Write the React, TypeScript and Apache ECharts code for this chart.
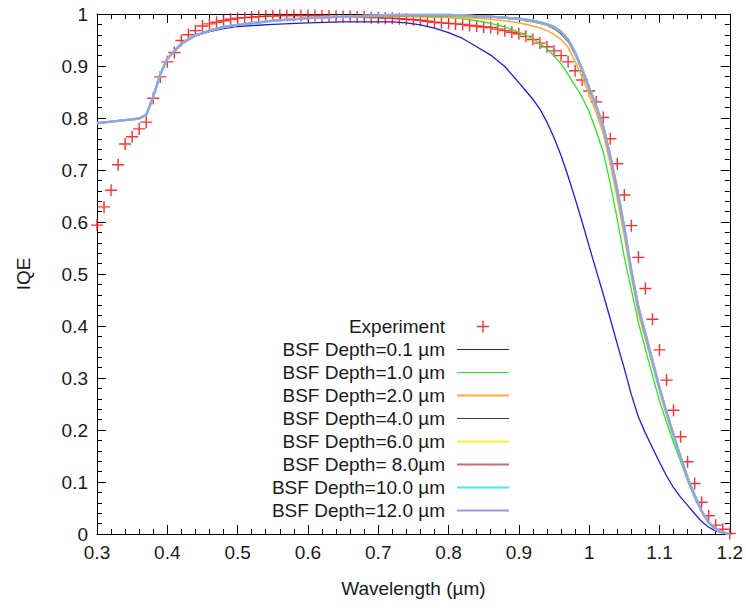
import React, { useEffect, useRef } from "react";
import * as echarts from "echarts";

// Experiment (red crosses)
const expWavelength = [
  0.30, 0.31, 0.32, 0.33, 0.34, 0.35, 0.36, 0.37, 0.38, 0.39,
  0.40, 0.41, 0.42, 0.43, 0.44, 0.45, 0.46, 0.47, 0.48, 0.49,
  0.50, 0.51, 0.52, 0.53, 0.54, 0.55, 0.56, 0.57, 0.58, 0.59,
  0.60, 0.61, 0.62, 0.63, 0.64, 0.65, 0.66, 0.67, 0.68, 0.69,
  0.70, 0.71, 0.72, 0.73, 0.74, 0.75, 0.76, 0.77, 0.78, 0.79,
  0.80, 0.81, 0.82, 0.83, 0.84, 0.85, 0.86, 0.87, 0.88, 0.89,
  0.90, 0.91, 0.92, 0.93, 0.94, 0.95, 0.96, 0.97, 0.98, 0.99,
  1.00, 1.01, 1.02, 1.03, 1.04, 1.05, 1.06, 1.07, 1.08, 1.09,
  1.10, 1.11, 1.12, 1.13, 1.14, 1.15, 1.16, 1.17, 1.18, 1.19,
  1.20,
];
const expIQE = [
  0.594, 0.629, 0.661, 0.710, 0.750, 0.764, 0.779, 0.792, 0.838, 0.879,
  0.908, 0.926, 0.949, 0.960, 0.968, 0.977, 0.981, 0.984, 0.987, 0.990,
  0.992, 0.993, 0.994, 0.995, 0.996, 0.996, 0.997, 0.997, 0.997, 0.997,
  0.997, 0.997, 0.996, 0.996, 0.995, 0.995, 0.995, 0.994, 0.994, 0.993,
  0.993, 0.992, 0.992, 0.991, 0.990, 0.989, 0.988, 0.986, 0.984, 0.983,
  0.982, 0.981, 0.980, 0.978, 0.977, 0.975, 0.974, 0.971, 0.968, 0.965,
  0.962, 0.957, 0.951, 0.944, 0.937, 0.929, 0.920, 0.908, 0.891, 0.873,
  0.852, 0.831, 0.801, 0.760, 0.712, 0.652, 0.593, 0.532, 0.472, 0.413,
  0.354, 0.296, 0.238, 0.187, 0.139, 0.097, 0.061, 0.035, 0.017, 0.009,
  0.001,
];

// Simulation wavelength grid
const simWavelength = [
  0.30, 0.32, 0.34, 0.36, 0.37, 0.38, 0.39, 0.40, 0.42, 0.44, 0.46, 0.48, 0.50,
  0.55, 0.60, 0.65, 0.70,
  0.72, 0.74, 0.76, 0.78, 0.80, 0.82, 0.84, 0.86, 0.88,
  0.90, 0.91, 0.92, 0.93, 0.94, 0.95, 0.96, 0.97, 0.98, 0.99,
  1.00, 1.01, 1.02, 1.03, 1.04, 1.05, 1.06, 1.07, 1.08, 1.09,
  1.10, 1.11, 1.12, 1.13, 1.14, 1.15, 1.16, 1.17, 1.18, 1.19,
  1.20,
];

const bsf01 = [
  0.790, 0.793, 0.796, 0.799, 0.806, 0.841, 0.884, 0.913, 0.942, 0.958, 0.966, 0.972, 0.976,
  0.980, 0.983, 0.985, 0.985,
  0.985, 0.983, 0.979, 0.973, 0.964, 0.953, 0.937, 0.921, 0.899,
  0.868, 0.852, 0.836, 0.817, 0.792, 0.762, 0.728, 0.688, 0.645, 0.600,
  0.553, 0.507, 0.461, 0.414, 0.365, 0.318, 0.268, 0.225, 0.194, 0.166,
  0.138, 0.112, 0.089, 0.071, 0.055, 0.039, 0.024, 0.013, 0.006, 0.002,
  0.000,
];
const bsf10 = [
  0.790, 0.793, 0.796, 0.799, 0.806, 0.841, 0.884, 0.914, 0.943, 0.959, 0.968, 0.975, 0.979,
  0.987, 0.992, 0.994, 0.995,
  0.995, 0.995, 0.995, 0.994, 0.993, 0.991, 0.987, 0.982, 0.975,
  0.965, 0.959, 0.952, 0.943, 0.933, 0.920, 0.904, 0.884, 0.862, 0.840,
  0.812, 0.775, 0.735, 0.674, 0.605, 0.532, 0.470, 0.407, 0.355, 0.305,
  0.256, 0.215, 0.176, 0.140, 0.102, 0.069, 0.044, 0.022, 0.008, 0.002,
  0.000,
];
const bsf20 = [
  0.790, 0.793, 0.796, 0.799, 0.806, 0.841, 0.884, 0.914, 0.943, 0.959, 0.968, 0.975, 0.979,
  0.987, 0.992, 0.995, 0.996,
  0.996, 0.996, 0.995, 0.995, 0.994, 0.993, 0.992, 0.990, 0.987,
  0.983, 0.980, 0.977, 0.973, 0.968, 0.961, 0.951, 0.936, 0.909, 0.879,
  0.845, 0.810, 0.770, 0.712, 0.645, 0.572, 0.495, 0.425, 0.375, 0.325,
  0.275, 0.228, 0.186, 0.145, 0.105, 0.071, 0.042, 0.021, 0.008, 0.002,
  0.000,
];
const bsf40 = [
  0.790, 0.793, 0.796, 0.799, 0.806, 0.841, 0.884, 0.914, 0.943, 0.959, 0.968, 0.975, 0.979,
  0.987, 0.992, 0.995, 0.997,
  0.997, 0.997, 0.997, 0.997, 0.996, 0.996, 0.995, 0.994, 0.992,
  0.989, 0.987, 0.985, 0.982, 0.978, 0.972, 0.962, 0.947, 0.922, 0.890,
  0.855, 0.820, 0.780, 0.722, 0.656, 0.583, 0.502, 0.432, 0.381, 0.330,
  0.279, 0.232, 0.189, 0.147, 0.107, 0.073, 0.043, 0.022, 0.009, 0.003,
  0.000,
];
const bsf60 = [
  0.790, 0.793, 0.796, 0.799, 0.806, 0.841, 0.884, 0.914, 0.943, 0.959, 0.968, 0.975, 0.979,
  0.987, 0.992, 0.995, 0.997,
  0.998, 0.998, 0.998, 0.998, 0.997, 0.997, 0.996, 0.995, 0.993,
  0.990, 0.988, 0.986, 0.983, 0.979, 0.974, 0.965, 0.950, 0.925, 0.893,
  0.857, 0.822, 0.783, 0.726, 0.660, 0.587, 0.505, 0.435, 0.384, 0.332,
  0.280, 0.233, 0.190, 0.148, 0.108, 0.074, 0.044, 0.022, 0.009, 0.003,
  0.000,
];
const bsf80 = [
  0.790, 0.793, 0.796, 0.799, 0.806, 0.841, 0.884, 0.914, 0.943, 0.959, 0.968, 0.975, 0.979,
  0.987, 0.992, 0.995, 0.997,
  0.998, 0.998, 0.998, 0.998, 0.998, 0.997, 0.996, 0.995, 0.993,
  0.991, 0.989, 0.987, 0.984, 0.980, 0.975, 0.966, 0.951, 0.926, 0.894,
  0.858, 0.823, 0.784, 0.727, 0.662, 0.589, 0.506, 0.436, 0.385, 0.333,
  0.281, 0.234, 0.190, 0.148, 0.108, 0.074, 0.044, 0.022, 0.009, 0.003,
  0.000,
];
const bsf100 = [
  0.790, 0.793, 0.796, 0.799, 0.806, 0.841, 0.884, 0.914, 0.943, 0.959, 0.968, 0.975, 0.979,
  0.987, 0.992, 0.995, 0.997,
  0.998, 0.998, 0.998, 0.998, 0.998, 0.997, 0.996, 0.995, 0.993,
  0.991, 0.989, 0.987, 0.984, 0.980, 0.975, 0.966, 0.951, 0.926, 0.894,
  0.858, 0.823, 0.784, 0.727, 0.662, 0.589, 0.506, 0.436, 0.385, 0.333,
  0.281, 0.234, 0.190, 0.148, 0.108, 0.074, 0.044, 0.022, 0.009, 0.003,
  0.000,
];
const bsf120 = [
  0.790, 0.793, 0.796, 0.799, 0.806, 0.841, 0.884, 0.914, 0.943, 0.959, 0.968, 0.975, 0.979,
  0.987, 0.992, 0.995, 0.997,
  0.998, 0.998, 0.998, 0.998, 0.998, 0.997, 0.996, 0.995, 0.993,
  0.991, 0.989, 0.987, 0.984, 0.980, 0.975, 0.966, 0.951, 0.926, 0.894,
  0.858, 0.823, 0.784, 0.727, 0.662, 0.589, 0.506, 0.436, 0.385, 0.333,
  0.281, 0.234, 0.190, 0.148, 0.108, 0.074, 0.044, 0.022, 0.009, 0.003,
  0.000,
];

const seriesNames = [
  "Experiment",
  "BSF Depth=0.1 µm",
  "BSF Depth=1.0 µm",
  "BSF Depth=2.0 µm",
  "BSF Depth=4.0 µm",
  "BSF Depth=6.0 µm",
  "BSF Depth= 8.0µm",
  "BSF Depth=10.0 µm",
  "BSF Depth=12.0 µm",
];
const simCurves = [bsf01, bsf10, bsf20, bsf40, bsf60, bsf80, bsf100, bsf120];
const simColors = ["#1c1ce6", "#22ee22", "#ffaa3a", "#3a3a3a", "#f4f43a", "#c07070", "#3cf2f2", "#aa92ea"];
const simWidths = [1.3, 1.3, 1.6, 1.3, 2, 2.4, 2.4, 1.7];

const FONT = "'Liberation Sans', Arial, sans-serif";
const FS = 19;
const PLUS = "path://M0,5.3H12V6.7H0Z M5.3,0H6.7V12H5.3Z";
// legend icon: same plus, centred in a 52x14 box (zero-area corner points fix the box)
const PLUS_LEGEND = "path://M0,0L0,0M52,14L52,14M20,6.3H32V7.7H20Z M25.3,1H26.7V13H25.3Z";

const fmt = (v: number) => String(Math.round(v * 10) / 10);

export default function App() {
  const ref = useRef<HTMLDivElement>(null);
  useEffect(() => {
    document.body.style.margin = "0";
    if (!ref.current) return;
    const chart = echarts.init(ref.current, null, { renderer: "svg" });

    const axisCommon = {
      type: "value",
      axisLine: { show: true, onZero: false, lineStyle: { color: "#000", width: 1 } },
      axisTick: { show: true, inside: true, length: 9, lineStyle: { color: "#000", width: 1 } },
      minorTick: { show: true, splitNumber: 5, length: 5, lineStyle: { color: "#000", width: 1 } },
      splitLine: { show: false },
      minorSplitLine: { show: false },
    };
    const xBase = { ...axisCommon, min: 0.3, max: 1.2, interval: 0.1 };
    const yBase = { ...axisCommon, min: 0, max: 1, interval: 0.1 };

    const series: any[] = [
      {
        name: seriesNames[0],
        type: "scatter",
        data: expWavelength.map((x, i) => [x, expIQE[i]]),
        symbol: PLUS,
        symbolSize: 12,
        itemStyle: { color: "#ff1a1a", opacity: 0.9 },
        silent: true,
        z: 2,
      },
      ...simCurves.map((curve, k) => ({
        name: seriesNames[k + 1],
        type: "line",
        data: simWavelength.map((x, i) => [x, curve[i]]),
        symbol: "none",
        showSymbol: false,
        lineStyle: { color: simColors[k], width: simWidths[k] },
        itemStyle: { color: simColors[k] },
        silent: true,
        z: 3,
      })),
    ];

    const legends = seriesNames.map((n, i) => {
      const isExp = i === 0;
      const h = isExp ? 14 : Math.max(1, Math.round(simWidths[i - 1]));
      return {
        data: [{ name: n, icon: isExp ? PLUS_LEGEND : "rect" }],
        orient: "horizontal",
        align: "right",
        right: 237,
        top: 317 + 23 * i,
        padding: 0,
        itemWidth: 52,
        itemHeight: h,
        selectedMode: false,
        textStyle: { fontSize: FS, color: "#1a1a1a", fontFamily: FONT, lineHeight: 18, padding: [0, 7, 0, 0] },
      };
    });

    chart.setOption({
      animation: false,
      backgroundColor: "#ffffff",
      textStyle: { fontFamily: FONT },
      grid: { left: 97, right: 15, top: 14, bottom: 74 },
      legend: legends,
      xAxis: [
        {
          ...xBase,
          position: "bottom",
          name: "Wavelength (µm)",
          nameLocation: "middle",
          nameGap: 45,
          nameTextStyle: { fontSize: FS, color: "#1a1a1a", fontFamily: FONT },
          axisLabel: { show: true, fontSize: FS, color: "#1a1a1a", margin: 9, formatter: fmt, fontFamily: FONT },
        },
        { ...xBase, position: "top", axisLabel: { show: false } },
      ],
      yAxis: [
        {
          ...yBase,
          position: "left",
          name: "IQE",
          nameLocation: "middle",
          nameGap: 64,
          nameTextStyle: { fontSize: FS, color: "#1a1a1a", fontFamily: FONT },
          axisLabel: { show: true, fontSize: FS, color: "#1a1a1a", margin: 9, formatter: fmt, fontFamily: FONT },
        },
        { ...yBase, position: "right", axisLabel: { show: false } },
      ],
      series,
    });
    return () => chart.dispose();
  }, []);
  return <div ref={ref} style={{ width: 746, height: 608 }} />;
}
